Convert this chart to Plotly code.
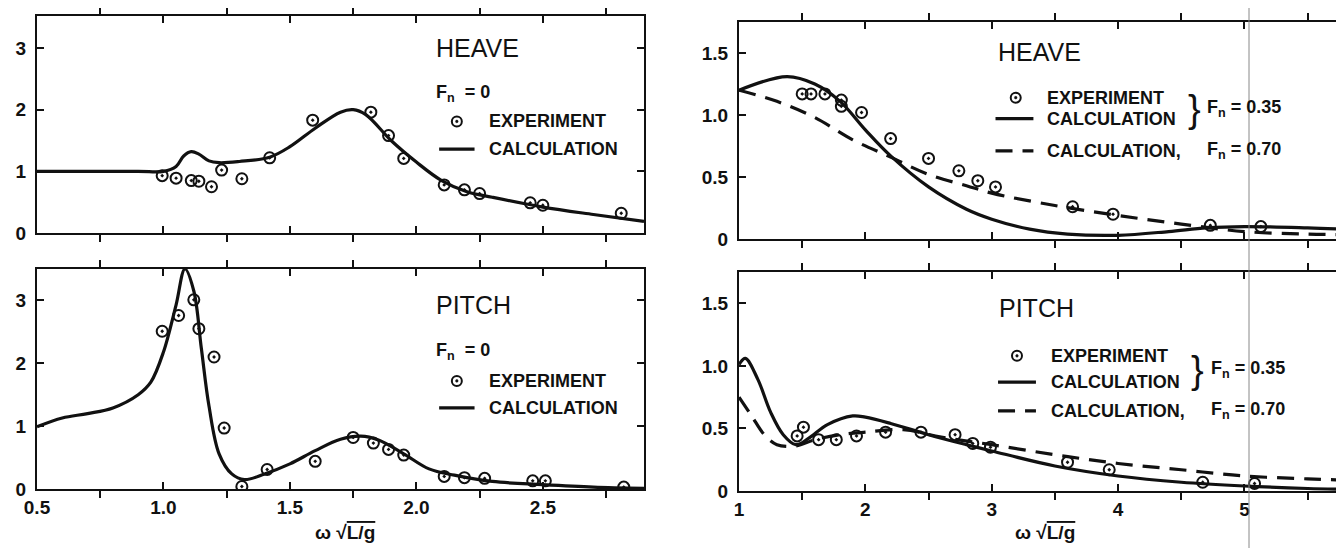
import plotly.graph_objects as go

# ---------------- data ----------------
# Left panels: Fn = 0
heave0_exp_x = [0.995, 1.05, 1.11, 1.14, 1.19, 1.23, 1.31, 1.42, 1.59, 1.82, 1.89, 1.95, 2.11, 2.19, 2.25, 2.45, 2.50, 2.81]
heave0_exp_y = [0.93, 0.89, 0.85, 0.84, 0.75, 1.02, 0.88, 1.22, 1.83, 1.96, 1.58, 1.21, 0.78, 0.70, 0.64, 0.49, 0.45, 0.32]
heave0_calc_x = [0.5, 0.9, 1.0, 1.05, 1.08, 1.11, 1.14, 1.18, 1.22, 1.3, 1.42, 1.5, 1.6, 1.7, 1.75, 1.8, 1.9, 2.0, 2.1, 2.2, 2.3, 2.5, 2.7, 2.9]
heave0_calc_y = [1.0, 1.0, 1.0, 1.08, 1.25, 1.32, 1.28, 1.17, 1.14, 1.16, 1.23, 1.4, 1.7, 1.96, 2.0, 1.92, 1.5, 1.15, 0.85, 0.67, 0.58, 0.42, 0.3, 0.19]

pitch0_exp_x = [0.995, 1.06, 1.12, 1.14, 1.2, 1.24, 1.31, 1.41, 1.60, 1.75, 1.83, 1.89, 1.95, 2.11, 2.19, 2.27, 2.46, 2.51, 2.82]
pitch0_exp_y = [2.51, 2.76, 3.01, 2.55, 2.10, 0.97, 0.04, 0.31, 0.44, 0.82, 0.73, 0.63, 0.54, 0.20, 0.18, 0.17, 0.13, 0.13, 0.03]
pitch0_calc_x = [0.5, 0.6, 0.7, 0.8, 0.9, 0.95, 1.0, 1.05, 1.085, 1.12, 1.15, 1.18, 1.22, 1.27, 1.32, 1.4, 1.5, 1.6, 1.7, 1.78, 1.85, 1.95, 2.05, 2.15, 2.3, 2.5, 2.7, 2.9]
pitch0_calc_y = [0.99, 1.13, 1.2, 1.29, 1.5, 1.7, 2.18, 2.93, 3.5, 3.15, 2.23, 1.32, 0.56, 0.24, 0.15, 0.24, 0.4, 0.61, 0.79, 0.84, 0.78, 0.56, 0.32, 0.22, 0.12, 0.07, 0.03, 0.01]

# Right panels: Fn = 0.35 (experiment + calculation), Fn = 0.70 (calculation)
heave35_exp_x = [1.50, 1.57, 1.68, 1.81, 1.81, 1.97, 2.2, 2.5, 2.74, 2.89, 3.03, 3.64, 3.96, 4.73, 5.13]
heave35_exp_y = [1.17, 1.17, 1.17, 1.12, 1.07, 1.02, 0.81, 0.65, 0.55, 0.47, 0.42, 0.26, 0.20, 0.11, 0.10]
heave35_calc_x = [1.0, 1.38, 1.6, 1.8, 2.0, 2.2, 2.5, 2.8, 3.0, 3.3, 3.6, 4.0, 4.4, 4.7, 5.0, 5.5, 5.78]
heave35_calc_y = [1.2, 1.31, 1.25, 1.11, 0.88, 0.67, 0.42, 0.24, 0.16, 0.08, 0.04, 0.03, 0.06, 0.09, 0.10, 0.09, 0.08]
heave70_calc_x = [1.0, 1.3, 1.6, 1.9, 2.2, 2.5, 2.8, 3.0, 3.5, 4.0, 4.5, 5.0, 5.5, 5.78]
heave70_calc_y = [1.2, 1.11, 0.98, 0.80, 0.66, 0.52, 0.43, 0.37, 0.27, 0.19, 0.12, 0.06, 0.04, 0.035]

pitch35_exp_x = [1.46, 1.51, 1.63, 1.77, 1.93, 2.16, 2.44, 2.71, 2.85, 2.99, 3.6, 3.93, 4.67, 5.08]
pitch35_exp_y = [0.44, 0.51, 0.41, 0.41, 0.44, 0.47, 0.47, 0.45, 0.38, 0.35, 0.23, 0.17, 0.07, 0.06]
pitch35_calc_x = [1.0, 1.05, 1.15, 1.25, 1.35, 1.45, 1.55, 1.7, 1.9, 2.0, 2.2, 2.5, 2.8, 3.0, 3.5, 4.0, 4.5, 5.0, 5.5, 5.78]
pitch35_calc_y = [1.01, 1.06, 0.89, 0.63, 0.45, 0.37, 0.42, 0.53, 0.60, 0.59, 0.54, 0.45, 0.37, 0.32, 0.20, 0.12, 0.07, 0.04, 0.02, 0.013]
pitch70_calc_x = [1.0, 1.1, 1.2, 1.3, 1.45, 1.6, 1.8, 2.0, 2.3, 2.6, 3.0, 3.5, 4.0, 4.5, 5.0, 5.5, 5.78]
pitch70_calc_y = [0.75, 0.6, 0.45, 0.37, 0.36, 0.41, 0.45, 0.47, 0.49, 0.43, 0.37, 0.29, 0.22, 0.17, 0.12, 0.097, 0.087]

left_xticks = [0.5, 1.0, 1.5, 2.0, 2.5]
left_xlabels = ["0.5", "1.0", "1.5", "2.0", "2.5"]
left_yticks = [0, 1, 2, 3]
left_ylabels = ["0", "1", "2", "3"]
right_xticks = [1, 2, 3, 4, 5]
right_xlabels = ["1", "2", "3", "4", "5"]
right_yticks = [0, 0.5, 1.0, 1.5]
right_ylabels = ["0", "0.5", "1.0", "1.5"]

# ---------------- figure ----------------
W, H = 1344, 548
FONT = "Liberation Sans, Arial, Helvetica, sans-serif"
BLACK = "#111111"
DASH = "17px,10px"

def px_x(p):
    return p / W

def px_y(p):
    return 1 - p / H

fig = go.Figure()

def calc(x, y, ax, dash="solid"):
    fig.add_trace(go.Scatter(x=x, y=y, mode="lines", xaxis=ax[0], yaxis=ax[1],
                             line=dict(color=BLACK, width=3.2, dash=dash, shape="spline", smoothing=1.0),
                             showlegend=False, hoverinfo="skip"))

def exp(x, y, ax):
    fig.add_trace(go.Scatter(x=x, y=y, mode="markers", xaxis=ax[0], yaxis=ax[1],
                             marker=dict(symbol="circle-open-dot", size=11, color=BLACK,
                                         line=dict(color=BLACK, width=2)),
                             showlegend=False, hoverinfo="skip"))

A1 = ("x", "y")
A2 = ("x2", "y2")
A3 = ("x3", "y3")
A4 = ("x4", "y4")

calc(heave0_calc_x, heave0_calc_y, A1)
exp(heave0_exp_x, heave0_exp_y, A1)
calc(pitch0_calc_x, pitch0_calc_y, A3)
exp(pitch0_exp_x, pitch0_exp_y, A3)
calc(heave70_calc_x, heave70_calc_y, A2, dash=DASH)
calc(heave35_calc_x, heave35_calc_y, A2)
exp(heave35_exp_x, heave35_exp_y, A2)
calc(pitch70_calc_x, pitch70_calc_y, A4, dash=DASH)
calc(pitch35_calc_x, pitch35_calc_y, A4)
exp(pitch35_exp_x, pitch35_exp_y, A4)

tickfont = dict(family=FONT, size=19, color=BLACK, weight="bold")

def xaxis(domain, rng, tickvals, ticktext, minor_tick0, minor_dtick, anchor, labels):
    return dict(domain=domain, range=rng, anchor=anchor, automargin=False,
                showline=True, linewidth=2, linecolor=BLACK, mirror="ticks",
                ticks="inside", ticklen=7, tickwidth=1.5, tickcolor=BLACK,
                tickvals=tickvals, ticktext=ticktext, showticklabels=labels,
                tickfont=tickfont, showgrid=False, zeroline=False,
                minor=dict(ticks="outside", ticklen=7, tickwidth=1.5, tickcolor=BLACK,
                           tick0=minor_tick0, dtick=minor_dtick, showgrid=False))

def yaxis(domain, rng, tickvals, ticktext, anchor):
    return dict(domain=domain, range=rng, anchor=anchor, automargin=False,
                showline=True, linewidth=2, linecolor=BLACK, mirror="ticks",
                ticks="inside", ticklen=7, tickwidth=1.5, tickcolor=BLACK,
                tickvals=tickvals, ticktext=ticktext, tickfont=tickfont,
                showgrid=False, zeroline=False, ticklabelstandoff=5)

LX = [px_x(29), px_x(636)]
RX = [px_x(731), px_x(1335)]

fig.update_layout(
    template="none",
    width=W, height=H, margin=dict(l=0, r=0, t=0, b=0, autoexpand=False),
    paper_bgcolor="white", plot_bgcolor="white",
    showlegend=False,
    xaxis=xaxis(LX, [0.5, 2.9], left_xticks, left_xlabels, 0.75, 0.5, "y", False),
    yaxis=yaxis([px_y(225), px_y(8)], [0, 3.52], left_yticks, left_ylabels, "x"),
    xaxis3=xaxis(LX, [0.5, 2.9], left_xticks, left_xlabels, 0.75, 0.5, "y3", True),
    yaxis3=yaxis([px_y(481), px_y(261)], [0, 3.5], left_yticks, left_ylabels, "x3"),
    xaxis2=xaxis(RX, [1, 5.78], right_xticks, right_xlabels, 1.5, 1, "y2", False),
    yaxis2=yaxis([px_y(231), px_y(14)], [0, 1.75], right_yticks, right_ylabels, "x2"),
    xaxis4=xaxis(RX, [1, 5.78], right_xticks, right_xlabels, 1.5, 1, "y4", True),
    yaxis4=yaxis([px_y(483), px_y(264)], [0, 1.75], right_yticks, right_ylabels, "x4"),
)

ann = []
def text(s, x, y, xref, yref, size=18, anchor="left", bold=True, yanchor="middle"):
    ann.append(dict(text=s, x=x, y=y, xref=xref, yref=yref, showarrow=False,
                    xanchor=anchor, yanchor=yanchor,
                    font=dict(family=FONT, size=size, color=BLACK,
                              weight="bold" if bold else "normal")))

shapes = []
def seg(x0, x1, y, xref, yref, dash="solid"):
    shapes.append(dict(type="line", x0=x0, x1=x1, y0=y, y1=y, xref=xref, yref=yref,
                       line=dict(color=BLACK, width=3.2, dash=dash)))

def circ(x, y, xref, yref):
    shapes.append(dict(type="circle", xref=xref, yref=yref, xsizemode="pixel", ysizemode="pixel",
                       xanchor=x, yanchor=y, x0=-5, x1=5, y0=-5, y1=5,
                       line=dict(color=BLACK, width=2)))
    shapes.append(dict(type="circle", xref=xref, yref=yref, xsizemode="pixel", ysizemode="pixel",
                       xanchor=x, yanchor=y, x0=-1.3, x1=1.3, y0=-1.3, y1=1.3,
                       fillcolor=BLACK, line=dict(color=BLACK, width=0.5)))

# top-left
text("HEAVE", 2.07, 3.0, "x", "y", size=25, bold=False)
text("F<sub>n</sub>  = 0", 2.07, 2.27, "x", "y")
circ(2.16, 1.81, "x", "y")
text("EXPERIMENT", 2.28, 1.81, "x", "y")
seg(2.09, 2.23, 1.36, "x", "y")
text("CALCULATION", 2.28, 1.36, "x", "y")

# bottom-left
text("PITCH", 2.07, 2.93, "x3", "y3", size=25, bold=False)
text("F<sub>n</sub>  = 0", 2.07, 2.18, "x3", "y3")
circ(2.16, 1.72, "x3", "y3")
text("EXPERIMENT", 2.28, 1.72, "x3", "y3")
seg(2.09, 2.23, 1.29, "x3", "y3")
text("CALCULATION", 2.28, 1.29, "x3", "y3")

# top-right
text("HEAVE", 3.03, 1.51, "x2", "y2", size=25, bold=False)
circ(3.19, 1.14, "x2", "y2")
text("EXPERIMENT", 3.42, 1.14, "x2", "y2")
seg(3.03, 3.33, 0.97, "x2", "y2")
text("CALCULATION", 3.42, 0.97, "x2", "y2")
seg(3.03, 3.33, 0.71, "x2", "y2", dash=DASH)
text("CALCULATION,", 3.42, 0.71, "x2", "y2")
text("}", 4.54, 1.05, "x2", "y2", size=38, bold=False)
text("F<sub>n</sub> = 0.35", 4.69, 1.05, "x2", "y2")
text("F<sub>n</sub> = 0.70", 4.69, 0.71, "x2", "y2")

# bottom-right
text("PITCH", 3.04, 1.46, "x4", "y4", size=25, bold=False)
circ(3.2, 1.08, "x4", "y4")
text("EXPERIMENT", 3.45, 1.08, "x4", "y4")
seg(3.05, 3.35, 0.87, "x4", "y4")
text("CALCULATION", 3.45, 0.87, "x4", "y4")
seg(3.05, 3.35, 0.64, "x4", "y4", dash=DASH)
text("CALCULATION,", 3.45, 0.64, "x4", "y4")
text("}", 4.56, 0.97, "x4", "y4", size=38, bold=False)
text("F<sub>n</sub> = 0.35", 4.72, 0.97, "x4", "y4")
text("F<sub>n</sub> = 0.70", 4.72, 0.64, "x4", "y4")

# axis titles
xt = "ω √<span style='text-decoration:overline'>L/g</span>"
text(xt, (LX[0] + LX[1]) / 2 + 0.003, px_y(524), "paper", "paper", size=19)
ann[-1]["xanchor"] = "center"
text(xt, (RX[0] + RX[1]) / 2 + 0.003, px_y(524), "paper", "paper", size=19)
ann[-1]["xanchor"] = "center"

# faint scan line across the right panels
shapes.append(dict(type="line", xref="paper", yref="paper", x0=px_x(1241), x1=px_x(1241), y0=0, y1=1,
                   line=dict(color="#888888", width=1)))

fig.update_layout(annotations=ann, shapes=shapes)
fig.write_html("out.html")
